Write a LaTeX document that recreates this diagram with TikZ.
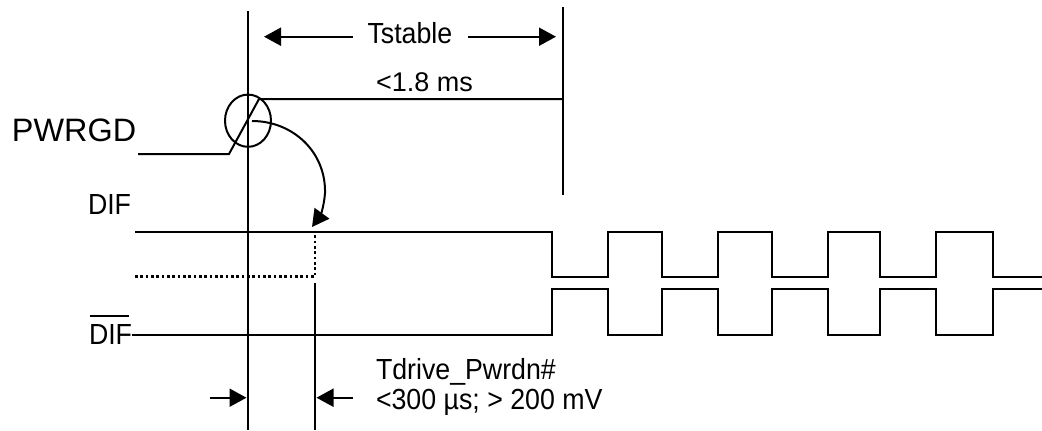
\documentclass[tikz,border=0pt]{standalone}
\usepackage{fontspec}
\usepackage{graphicx}
\setmainfont{Liberation Sans}
\usetikzlibrary{arrows.meta}
\newcommand\narrowtxt[1]{\scalebox{0.92}[1]{#1}}
\begin{document}
\begin{tikzpicture}[x=0.75pt,y=-0.75pt,line width=1.5pt,line join=miter,
  lbl/.style={anchor=base west,inner sep=0pt,font=\fontsize{21.8pt}{26pt}\selectfont},
  plainlbl/.style={anchor=base west,inner sep=0pt,font=\fontsize{20.25pt}{24pt}\selectfont},
  biglbl/.style={anchor=base west,inner sep=0pt,font=\fontsize{24.3pt}{28pt}\selectfont},
  tipped/.style={-{Triangle[length=12.75pt,width=13.5pt]}},
  dotline/.style={line width=1.9pt,dash pattern=on 2.1pt off 1.9pt}]
\useasboundingbox (0,0) rectangle (1042,430);
% key points
\coordinate (vtop) at (248,11);
\coordinate (vbot) at (248,430);
\coordinate (v2top) at (315,283);
\coordinate (v2bot) at (315,430);
\coordinate (rtop) at (563,7);
\coordinate (rbot) at (563,195);
% vertical reference lines
\draw (vtop) -- (vbot);
\draw (v2top) -- (v2bot);
\draw (rtop) -- (rbot);
% PWRGD signal
\coordinate (pw0) at (138,154);
\coordinate (pw1) at (229,154);
\coordinate (pw2) at (259,99);
\coordinate (pw3) at (563,99);
\draw (pw0) -- (pw1) -- (pw2) -- (pw3);
\coordinate (ringc) at (248,120.7);
\draw (ringc) ellipse [x radius=17.25pt,y radius=19.6pt];
% curved arrow
\coordinate (cstart) at (252,121);
\coordinate (cmid) at (325,193);
\coordinate (cend) at (312,227);
\draw[tipped] (cstart) .. controls (293,121) and (326,152) .. (cmid) .. controls (324,207) and (320,216) .. (cend);
% Tstable arrows
\coordinate (ts1) at (352.7,36.7);
\coordinate (ts1t) at (264,36.7);
\coordinate (ts2) at (468,36.7);
\coordinate (ts2t) at (556,36.7);
\draw[tipped] (ts1) -- (ts1t);
\draw[tipped] (ts2) -- (ts2t);
% Tdrive arrows
\coordinate (td1) at (210,397.7);
\coordinate (td1t) at (246.5,397.7);
\coordinate (td2) at (352.7,397.7);
\coordinate (td2t) at (316.5,397.7);
\draw[tipped] (td1) -- (td1t);
\draw[tipped] (td2) -- (td2t);
% DIF
\draw (135,231.7) -- (552,231.7) -- (552,276.7) -- (608,276.7) -- (608,231.7) -- (662,231.7) -- (662,276.7) -- (718,276.7) -- (718,231.7) -- (772,231.7) -- (772,276.7) -- (828,276.7) -- (828,231.7) -- (880,231.7) -- (880,276.7) -- (936,276.7) -- (936,231.7) -- (993,231.7) -- (993,276.7) -- (1042,276.7);
% DIF bar
\draw (131.7,335) -- (552,335) -- (552,289.3) -- (608,289.3) -- (608,335) -- (662,335) -- (662,289.3) -- (718,289.3) -- (718,335) -- (772,335) -- (772,289.3) -- (828,289.3) -- (828,335) -- (880,335) -- (880,289.3) -- (936,289.3) -- (936,335) -- (993,335) -- (993,289.3) -- (1042,289.3);
% dotted undriven state
\draw[dotline] (135,276.7) -- (315,276.7) -- (315,231.7);
% labels
\node[lbl] (tstable) at (366.5,43.3) {\narrowtxt{Tstable}};
\node[plainlbl] (lt18) at (375,91.7) {<1.8 ms};
\node[biglbl] (pwrgd) at (11,141) {PWRGD};
\node[lbl] (dif) at (87,214.3) {\narrowtxt{DIF}};
\node[lbl] (difbar) at (88,344.3) {\narrowtxt{DIF}};
\draw (90,316) -- (129.3,316);
\node[lbl] (tdrive) at (375,379.3) {\narrowtxt{Tdrive\_Pwrdn\#}};
\node[lbl] (tdrive2) at (375,409.3) {\narrowtxt{<300 µs; > 200 mV}};
\end{tikzpicture}
\end{document}
